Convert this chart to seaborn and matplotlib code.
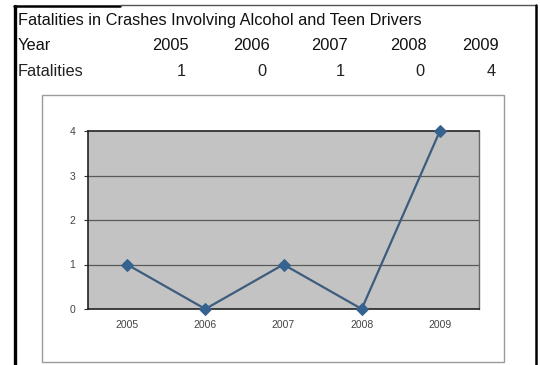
import matplotlib
matplotlib.use("Agg")
import matplotlib.pyplot as plt
from matplotlib.patches import Rectangle
from matplotlib.lines import Line2D
import seaborn as sns
import pandas as pd

# Data
title = "Fatalities in Crashes Involving Alcohol and Teen Drivers"
years = ["2005", "2006", "2007", "2008", "2009"]
fatalities = [1, 0, 1, 0, 4]
y_ticks = [0, 1, 2, 3, 4]

sns.set_theme(style="white")
plt.rcParams["font.family"] = ["Liberation Sans", "DejaVu Sans"]

W, H = 540, 365
fig = plt.figure(figsize=(W / 100, H / 100), dpi=100)
fig.patch.set_facecolor("white")

# Overlay axes in pixel coordinates (origin top-left) for the table and frame
bg = fig.add_axes([0, 0, 1, 1])
bg.set_xlim(0, W)
bg.set_ylim(H, 0)
bg.axis("off")

# Page frame
bg.add_line(Line2D([15, 15], [6, H], color="black", lw=2.4))
bg.add_line(Line2D([14, 120], [6, 6], color="black", lw=1.8))
bg.add_line(Line2D([120, 536], [5, 5], color="#555555", lw=1.0))
bg.add_line(Line2D([536, 536], [5, H], color="black", lw=1.8))

# Table
fs = 11.8
bg.text(18, 20, title, fontsize=fs, va="center", ha="left", color="#111111")
bg.text(18, 46, "Year", fontsize=fs, va="center", ha="left", color="#111111")
bg.text(18, 71, "Fatalities", fontsize=fs, va="center", ha="left", color="#222222")
col_right = [189, 270, 348, 427, 499]
for xr, yr, v in zip(col_right, years, fatalities):
    bg.text(xr, 46, yr, fontsize=fs, va="center", ha="right", color="#111111")
    bg.text(xr - 3, 71, str(v), fontsize=fs, va="center", ha="right", color="#222222")

# Chart area box
bg.add_patch(Rectangle((42, 95), 462, 267, fill=False, ec="#9a9a9a", lw=1.0))

# Plot
left, right, top, bottom = 88, 479, 131, 309
ax = fig.add_axes([left / W, 1 - bottom / H, (right - left) / W, (bottom - top) / H])
ax.set_facecolor("#c3c3c3")

df = pd.DataFrame({"Year": years, "Fatalities": fatalities})
sns.lineplot(data=df, x="Year", y="Fatalities", ax=ax, color="#3d5c7e", lw=1.6,
             marker="D", markersize=6.5, markerfacecolor="#35628f",
             markeredgecolor="#35628f", zorder=3, clip_on=False)

ax.set_xlim(-0.5, len(years) - 0.5)
ax.set_ylim(0, 4)
ax.set_yticks(y_ticks)
for yv in y_ticks[1:-1]:
    ax.axhline(yv, color="#5a5a5a", lw=0.9, zorder=1)

ax.set_xlabel("")
ax.set_ylabel("")
ax.tick_params(axis="x", length=0, pad=8, labelsize=7.5, labelcolor="#444444")
ax.tick_params(axis="y", length=3, width=0.8, color="#333333", pad=6,
               labelsize=7.5, labelcolor="#444444", left=True)
for side in ["left", "bottom", "top"]:
    ax.spines[side].set_color("#222222")
    ax.spines[side].set_linewidth(1.2)
ax.spines["right"].set_color("#666666")
ax.spines["right"].set_linewidth(1.0)

fig.savefig("out.png", dpi=100)
